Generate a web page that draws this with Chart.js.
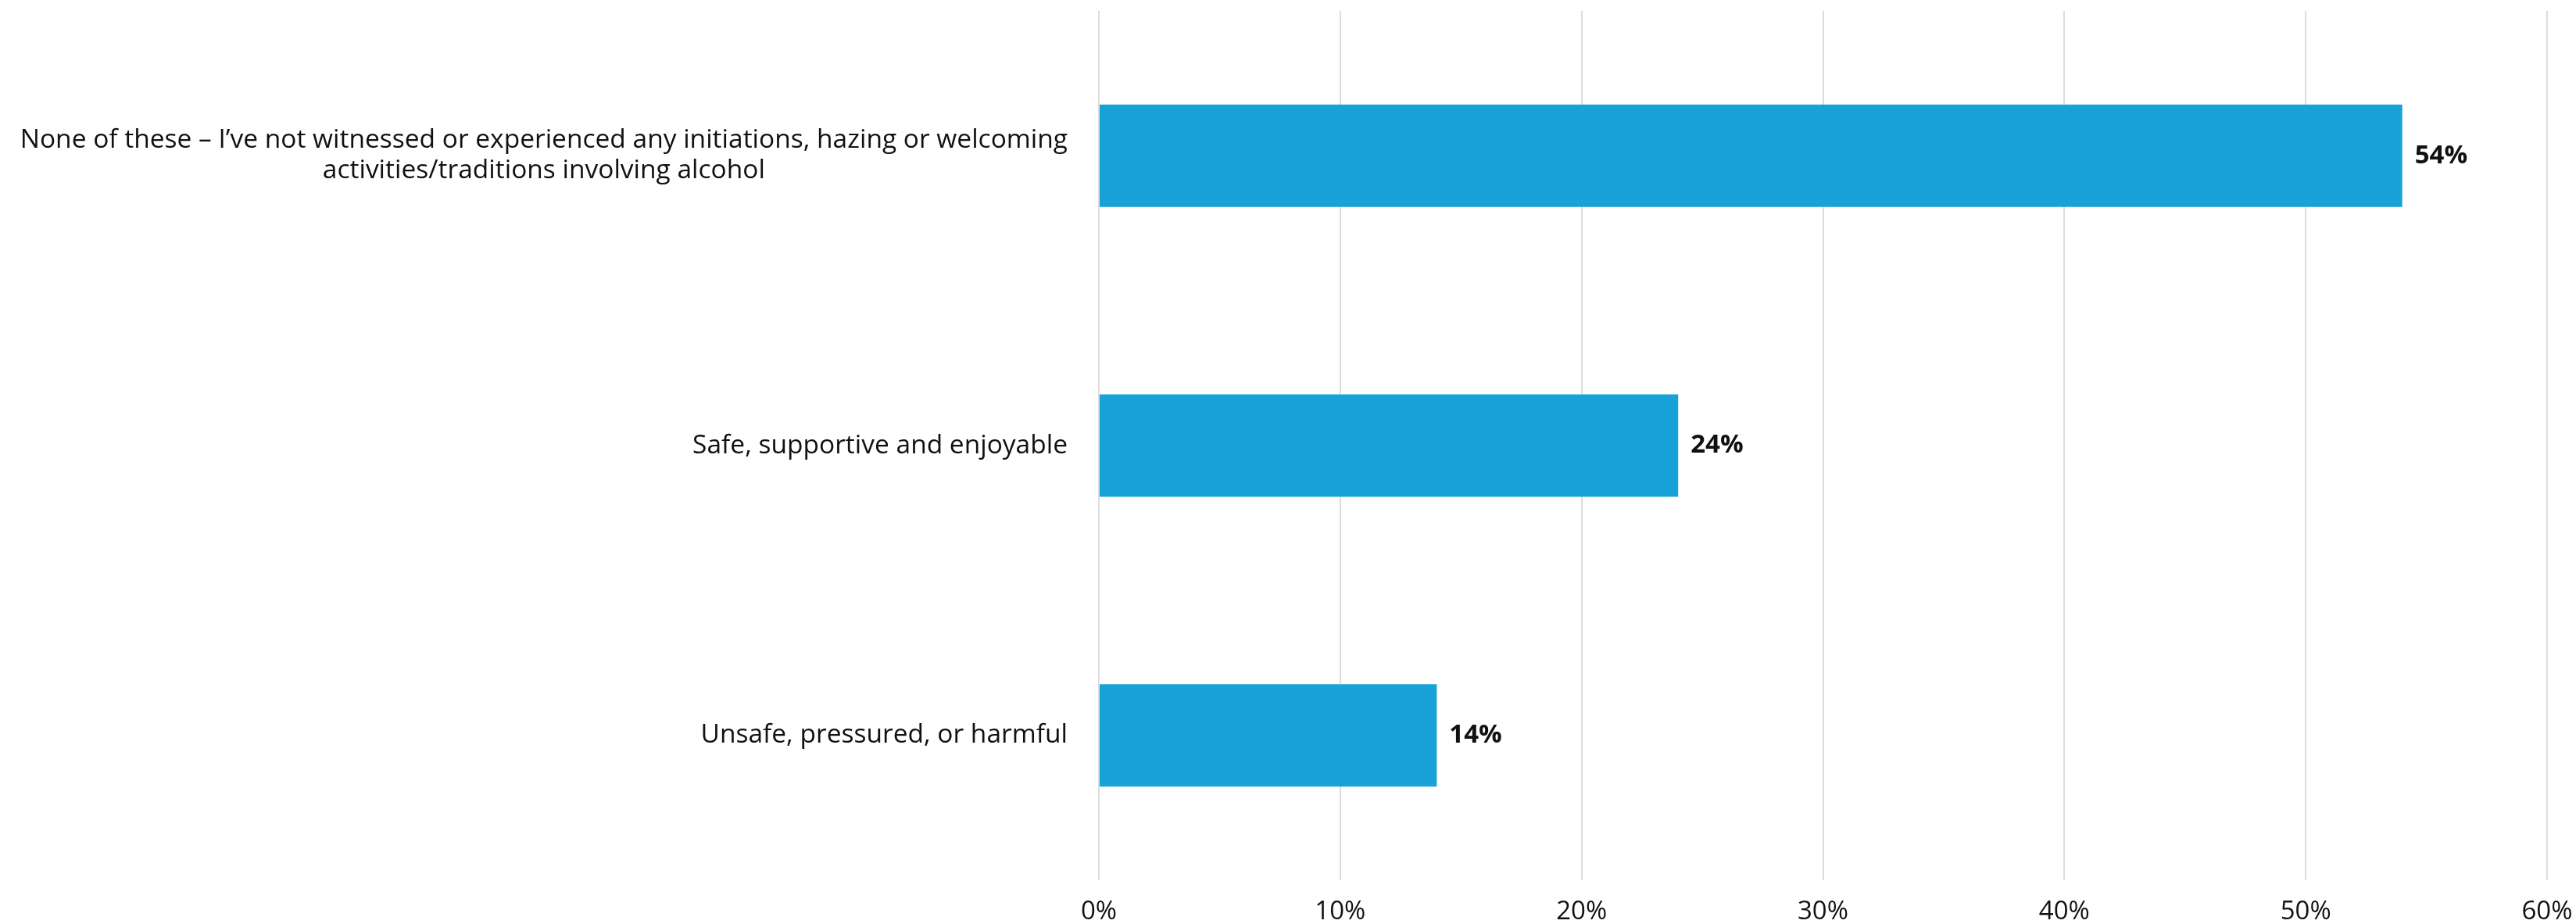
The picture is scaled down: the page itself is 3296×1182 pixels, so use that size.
<!DOCTYPE html>
<html>
<head>
<meta charset="utf-8">
<script src="https://cdn.jsdelivr.net/npm/chart.js@4"></script>
<style>
  html, body { margin: 0; padding: 0; background: #fff; }
  #wrap { width: 3296px; height: 1182px; }
</style>
</head>
<body>
<div id="wrap"><canvas id="chart"></canvas></div>
<script>
// data
const categories = [
  ['None of these \u2013 I\u2019ve not witnessed or experienced any initiations, hazing or welcoming', 'activities/traditions involving alcohol'],
  ['Safe, supportive and enjoyable'],
  ['Unsafe, pressured, or harmful']
];
const values = [54, 24, 14];
const xTicks = [0, 10, 20, 30, 40, 50, 60];

const FONT = '"Open Sans", Lato, sans-serif';

// draws the category labels: block right-aligned, lines centred inside the block
const catLabels = {
  id: 'catLabels',
  afterDraw(chart) {
    const ctx = chart.ctx;
    const y = chart.scales.y;
    const right = chart.chartArea.left - 40;
    ctx.save();
    ctx.font = '33.5px ' + FONT;
    ctx.fillStyle = '#111';
    ctx.textAlign = 'center';
    ctx.textBaseline = 'middle';
    const lh = 39;
    categories.forEach((lines, i) => {
      const w = Math.max(...lines.map(l => ctx.measureText(l).width));
      const cx = right - w / 2;
      const cy = y.getPixelForValue(i);
      const top = cy - (lines.length - 1) * lh / 2;
      lines.forEach((l, k) => ctx.fillText(l, cx, top + k * lh));
    });
    ctx.restore();
  }
};

// value labels at the bar ends
const valueLabels = {
  id: 'valueLabels',
  afterDatasetsDraw(chart) {
    const ctx = chart.ctx;
    const meta = chart.getDatasetMeta(0);
    ctx.save();
    ctx.font = 'bold 33px ' + FONT;
    ctx.fillStyle = '#111';
    ctx.textAlign = 'left';
    ctx.textBaseline = 'middle';
    meta.data.forEach((bar, i) => {
      ctx.fillText(values[i] + '%', bar.x + 16, bar.y);
    });
    ctx.restore();
  }
};

new Chart(document.getElementById('chart'), {
  type: 'bar',
  data: {
    labels: categories.map(c => c.join(' ')),
    datasets: [{
      data: values,
      backgroundColor: '#17a3d7',
      borderWidth: 0,
      categoryPercentage: 0.7,
      barPercentage: 0.505
    }]
  },
  options: {
    indexAxis: 'y',
    responsive: true,
    maintainAspectRatio: false,
    animation: false,
    layout: { padding: { top: 14, right: 37, bottom: 0, left: 0 } },
    plugins: {
      legend: { display: false },
      tooltip: { enabled: false }
    },
    scales: {
      x: {
        min: 0,
        max: 60,
        afterBuildTicks(axis) { axis.ticks = xTicks.map(v => ({ value: v })); },
        grid: { color: '#dcdcdc', lineWidth: 2, drawTicks: false },
        border: { display: false },
        ticks: {
          padding: 24,
          color: '#111',
          font: { family: FONT, size: 33, lineHeight: 1 },
          callback: v => v + '%',
          maxRotation: 0
        },
        afterFit(axis) {
          axis.height = 56;
          axis.paddingLeft = 0;
          axis.paddingRight = 0;
        }
      },
      y: {
        grid: { display: false },
        border: { display: false },
        ticks: { display: false },
        afterFit(axis) { axis.width = 1406; }
      }
    }
  },
  plugins: [catLabels, valueLabels]
});
</script>
</body>
</html>
